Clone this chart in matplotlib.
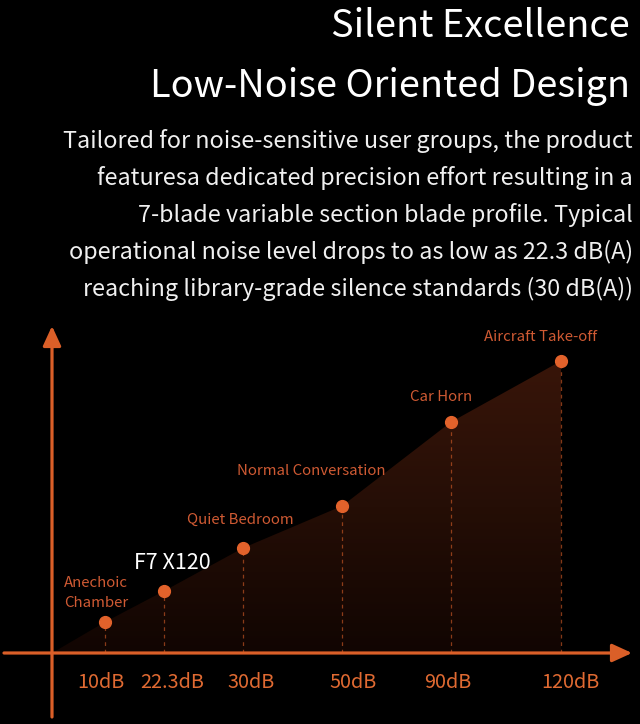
import matplotlib
matplotlib.use("Agg")
import matplotlib.pyplot as plt
import numpy as np
from matplotlib.patches import Polygon
from matplotlib.colors import LinearSegmentedColormap

plt.rcParams["font.family"] = ["Noto Sans CJK SC", "DejaVu Sans"]

# data (chart units: x from the y-axis, y above the x-axis)
sources = ["Anechoic\nChamber", "F7 X120", "Quiet Bedroom", "Normal Conversation", "Car Horn", "Aircraft Take-off"]
tick_labels = ["10dB", "22.3dB", "30dB", "50dB", "90dB", "120dB"]
x_vals = [53, 112, 191, 290, 399, 509]
levels = [31, 62, 105, 147, 231, 292]

TITLE = ["Silent Excellence", "Low-Noise Oriented Design"]
BODY = [
    "Tailored for noise-sensitive user groups, the product",
    "featuresa dedicated precision effort resulting in a",
    "7-blade variable section blade profile. Typical",
    "operational noise level drops to as low as 22.3 dB(A)",
    "reaching library-grade silence standards (30 dB(A))",
]

BG = "#000000"
AXC = "#DA5F28"
DOT = "#E2622B"
LAB = "#CF5A33"
TICK = "#E06A32"

fig = plt.figure(figsize=(6.4, 7.24), dpi=100, facecolor=BG)

# text layer in pixel coordinates
tx = fig.add_axes([0, 0, 1, 1])
tx.set_xlim(0, 640); tx.set_ylim(724, 0); tx.axis("off")
for y, t in zip([37, 97], TITLE):
    tx.text(630, y, t, ha="right", va="baseline", fontsize=27.3, color="white")
for i, t in enumerate(BODY):
    tx.text(633, 148 + i * 37, t, ha="right", va="baseline", fontsize=16.8, color="#F0F0F0")

# chart layer
ax = fig.add_axes([0, 0, 1, 1])
ax.set_facecolor("none")
ax.set_xlim(-52, 588); ax.set_ylim(-71, 653); ax.axis("off")

# gradient area under the curve
poly_xy = [(0, 0)] + list(zip(x_vals, levels)) + [(x_vals[-1], 0)]
poly = Polygon(poly_xy, closed=True, fc="none", ec="none")
ax.add_patch(poly)
cmap = LinearSegmentedColormap.from_list("fade", ["#110502", "#250e06", "#381509"])
grad = np.linspace(0, 1, 256).reshape(-1, 1)
im = ax.imshow(grad, cmap=cmap, origin="lower", aspect="auto",
               extent=[0, x_vals[-1], 0, max(levels)], zorder=1)
im.set_clip_path(poly)

# dashed drop lines and dots
for x, y in zip(x_vals, levels):
    ax.plot([x, x], [0, y], ls=(0, (3, 3)), lw=0.9, color=AXC, alpha=0.6, zorder=2)
ax.plot(x_vals, levels, "o", ms=8.5, color=DOT, ls="none", zorder=4)

# axes with arrows
ax.annotate("", xy=(580, 0), xytext=(-48, 0),
            arrowprops=dict(arrowstyle="-|>,head_length=1.2,head_width=0.55", lw=2.3, color=AXC,
                            shrinkA=0, shrinkB=0), zorder=3)
ax.annotate("", xy=(0, 327), xytext=(0, -64),
            arrowprops=dict(arrowstyle="-|>,head_length=1.2,head_width=0.55", lw=2.3, color=AXC,
                            shrinkA=0, shrinkB=0), zorder=3)

# tick labels (nudged as in the reference)
tick_dx = [-4, 8, 8, 11, -3, 9]
for x, t, dx in zip(x_vals, tick_labels, tick_dx):
    ax.text(x + dx, -29, t, ha="center", va="center", fontsize=14.3, color=TICK)

# point labels
offsets = [(-9, 29), (8, 28), (-3, 28), (-31, 35), (-10, 25), (-20, 24)]
for (x, y), name, (dx, dy) in zip(zip(x_vals, levels), sources, offsets):
    if name == "F7 X120":
        ax.text(x + dx, y + dy, name, ha="center", va="center", fontsize=15.5, color="white")
    elif "\n" in name:
        ax.text(12, y + dy, name, ha="left", va="center", fontsize=10.8,
                color=LAB, linespacing=1.55)
    else:
        ax.text(x + dx, y + dy, name, ha="center", va="center", fontsize=10.8, color=LAB)

fig.savefig("out.png", dpi=100, facecolor=BG)
